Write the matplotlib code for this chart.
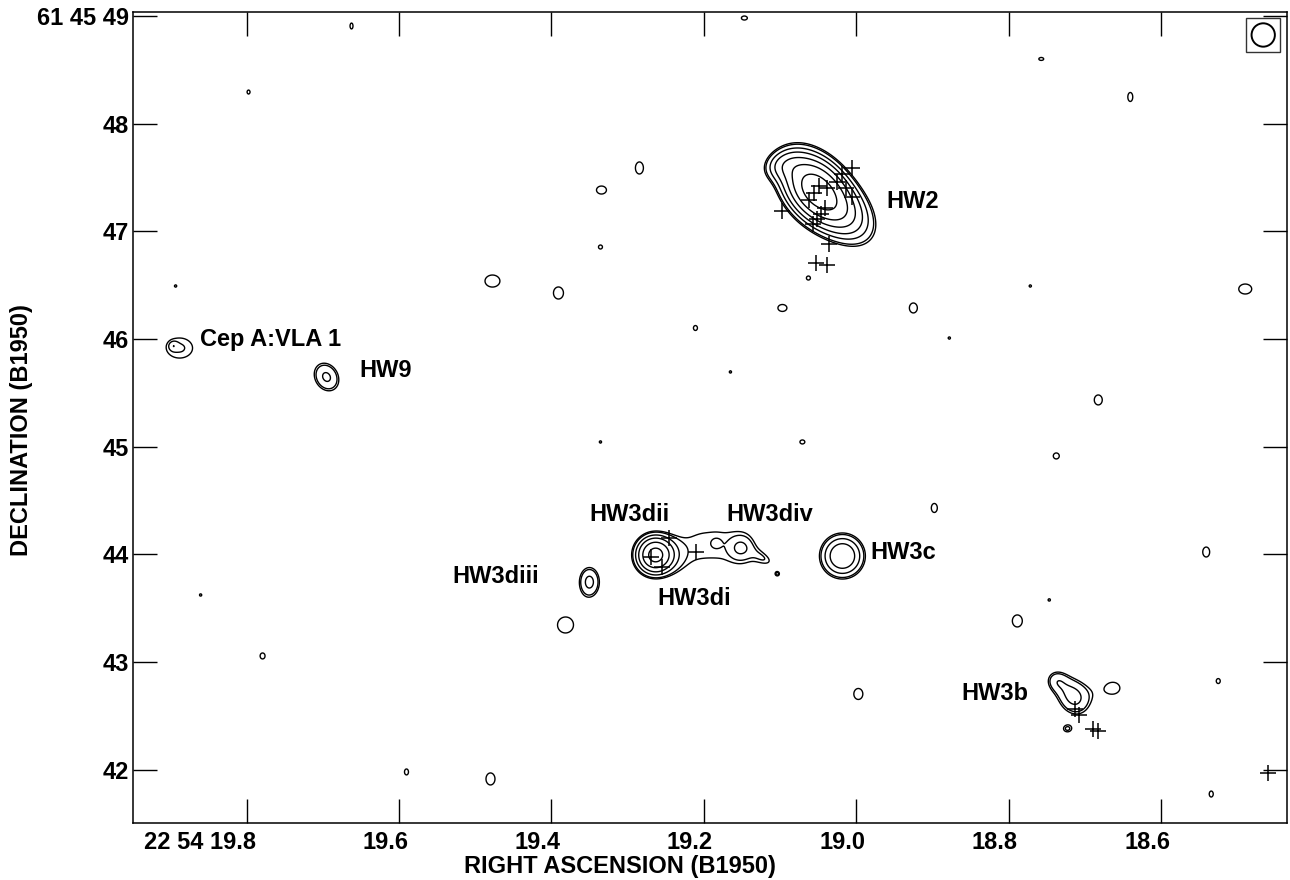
import numpy as np
import matplotlib
matplotlib.use("Agg")
import matplotlib.pyplot as plt
from matplotlib.patches import Rectangle, Ellipse
from matplotlib.transforms import ScaledTranslation

plt.rcParams["font.family"] = ["Liberation Sans", "DejaVu Sans"]
plt.rcParams["font.weight"] = "bold"

# Field centre declination (deg) for converting RA seconds to arcsec
DEC_REF = 61.7625
ARCSEC_PER_SEC = 15.0 * np.cos(np.radians(DEC_REF))

# Contour levels in units of the map rms
levels = [3, 3.5, 5, 7, 10, 14, 20, 28]

# Continuum components: RA (s after 22h54m), Dec (arcsec after 61d45m),
# peak (rms units), sigma major / minor (arcsec), position angle (deg E of N)
src_ra = [19.0551, 19.0197, 19.0984,                    # HW2
          19.8879, 19.8960,                             # Cep A:VLA 1
          19.6951,                                      # HW9
          19.2636,                                      # HW3di/dii
          19.2321, 19.2190, 19.2059, 19.1928, 19.1797, 19.1666, 19.1534, 19.1403,
          19.1272,                                      # ridge
          19.1836, 19.1521, 19.1167,                    # HW3div knots and tail
          19.3502,                                      # HW3diii
          19.0183,                                      # HW3c
          18.7154, 18.7390,                             # HW3b
          19.3816]
src_dec = [47.403, 47.190, 47.620,
           45.917, 45.936,
           45.648,
           43.9955,
           44.0418, 44.0604, 44.0883, 44.0883, 44.0883, 44.0790, 44.0604, 44.0418,
           44.0047,
           44.1068, 44.0604, 43.9490,
           43.7445,
           43.986,
           42.680, 42.835,
           43.3454]
src_peak = [22.0, 9.0, 4.0,
            3.6, 1.6,
            5.3,
            16.0,
            1.1, 1.3, 1.3, 1.3, 1.3, 1.3, 1.3, 1.3,
            1.3,
            0.6, 2.5, 2.0,
            5.5,
            9.8,
            5.6, 3.0,
            3.45]
src_smaj = [0.230, 0.250, 0.130,
            0.200, 0.025,
            0.126,
            0.121,
            0.280, 0.290, 0.290, 0.290, 0.290, 0.290, 0.290, 0.260,
            0.210,
            0.040, 0.065, 0.100,
            0.122,
            0.139,
            0.150, 0.080,
            0.140]
src_smin = [0.160, 0.160, 0.090,
            0.154, 0.025,
            0.100,
            0.121,
            0.093, 0.093, 0.093, 0.093, 0.093, 0.093, 0.093, 0.093,
            0.093,
            0.040, 0.065, 0.050,
            0.084,
            0.139,
            0.120, 0.080,
            0.140]
src_pa = [40, 45, 110,
          90, 0,
          30,
          0,
          0, 0, 0, 0, 0, 0, 0, 0,
          10,
          0, 0, 60,
          0,
          0,
          30, 0,
          0]

# Faint peaks just above the lowest contour: RA, Dec, sigma RA, sigma Dec (arcsec)
faint_peak = 3.3
faint_ra = [19.6623, 19.7974, 19.2846, 19.3344, 19.3357, 19.4774, 19.3908, 19.8931,
            19.2111, 19.1469, 18.7574, 18.6406, 18.7718, 18.4898, 19.0970, 18.9252,
            19.0629, 18.8780, 19.1652, 18.6826, 19.0708, 18.7377, 18.8977, 18.5410,
            19.1036, 18.7469, 18.7888, 19.7790, 18.9974, 18.6629, 18.5252, 19.5902,
            19.4800, 18.5344, 18.7233, 19.8603, 19.3357]
faint_dec = [48.907, 48.294, 47.589, 47.384, 46.855, 46.539, 46.428, 46.493,
             46.103, 48.981, 48.601, 48.248, 46.493, 46.465, 46.289, 46.289,
             46.567, 46.010, 45.695, 45.435, 45.045, 44.915, 44.432, 44.023,
             43.819, 43.578, 43.383, 43.058, 42.705, 42.760, 42.825, 41.981,
             41.916, 41.776, 42.380, 43.624, 45.045]
faint_sra = [0.032, 0.032, 0.085, 0.106, 0.043, 0.159, 0.106, 0.025,
             0.043, 0.064, 0.053, 0.053, 0.025, 0.138, 0.096, 0.085,
             0.043, 0.025, 0.025, 0.085, 0.053, 0.064, 0.064, 0.074,
             0.025, 0.025, 0.106, 0.053, 0.096, 0.138, 0.043, 0.043,
             0.096, 0.043, 0.053, 0.025, 0.025]
faint_sdec = [0.064, 0.043, 0.128, 0.085, 0.043, 0.128, 0.128, 0.025,
              0.053, 0.043, 0.032, 0.096, 0.025, 0.106, 0.074, 0.106,
              0.043, 0.025, 0.025, 0.106, 0.043, 0.064, 0.096, 0.106,
              0.025, 0.025, 0.128, 0.064, 0.117, 0.117, 0.053, 0.064,
              0.128, 0.064, 0.043, 0.025, 0.025]

# Maser spots (crosses)
maser_ra = [19.0052, 19.0183, 19.0249, 19.0131, 19.0052, 19.0485, 19.0380, 19.0551,
            19.0616, 19.0970, 19.0406, 19.0459, 19.0511, 19.0564, 19.0354, 19.0524,
            19.0380,
            19.2688, 19.2544, 19.2452, 19.2098,
            18.7128, 18.7075, 18.6892, 18.6826,
            18.4596]
maser_dec = [47.589, 47.533, 47.459, 47.403, 47.319, 47.422, 47.403, 47.357,
             47.292, 47.189, 47.217, 47.162, 47.115, 47.069, 46.883, 46.707,
             46.688,
             43.977, 43.884, 44.153, 44.023,
             42.566, 42.510, 42.380, 42.361,
             41.971]

# Source names and label anchor (left edge, vertical centre)
label_text = ["Cep A:VLA 1", "HW9", "HW2", "HW3dii", "HW3div", "HW3diii", "HW3di", "HW3c", "HW3b"]
label_ra = [19.8616, 19.6518, 18.9606, 19.3502, 19.1705, 19.5298, 19.2610, 18.9816, 18.8623]
label_dec = [45.992, 45.713, 47.273, 44.367, 44.367, 43.800, 43.587, 44.023, 42.705]

# Restoring beam (FWHM, arcsec) and where it is drawn
beam_fwhm = 0.217
beam_ra, beam_dec = 18.4662, 48.8236
beam_box = 0.316

ra_lim = (19.949, 18.435)
dec_lim = (41.507, 49.037)
ra_ticks = [19.8, 19.6, 19.4, 19.2, 19.0, 18.8, 18.6]
ra_ticklabels = ["22 54 19.8", "19.6", "19.4", "19.2", "19.0", "18.8", "18.6"]
dec_ticks = [49, 48, 47, 46, 45, 44, 43, 42]
dec_ticklabels = ["61 45 49", "48", "47", "46", "45", "44", "43", "42"]

# Model brightness on a fine grid
ra_grid = np.linspace(ra_lim[1], ra_lim[0], 1500)
dec_grid = np.linspace(dec_lim[0], dec_lim[1], 1000)
RA, DEC = np.meshgrid(ra_grid, dec_grid)


def gaussian(ra0, dec0, amp, smaj, smin, pa):
    dx = (RA - ra0) * ARCSEC_PER_SEC
    dy = DEC - dec0
    t = np.radians(pa)
    u = dx * np.sin(t) + dy * np.cos(t)
    v = dx * np.cos(t) - dy * np.sin(t)
    return amp * np.exp(-0.5 * ((u / smaj) ** 2 + (v / smin) ** 2))


field = np.zeros_like(RA)
for r, d, a, sj, sn, p in zip(src_ra, src_dec, src_peak, src_smaj, src_smin, src_pa):
    field += gaussian(r, d, a, sj, sn, p)
for r, d, sx, sy in zip(faint_ra, faint_dec, faint_sra, faint_sdec):
    field += gaussian(r, d, faint_peak, sy, sx, 0)

fig = plt.figure(figsize=(12.9, 8.8), dpi=100)
ax = fig.add_axes([133 / 1290, 1 - 823 / 880, (1287 - 133) / 1290, (823 - 12) / 880])

ax.contour(RA, DEC, field, levels=levels, colors="black", linewidths=1.0)
ax.plot(maser_ra, maser_dec, "+", color="black", ms=12, mew=1.1, ls="none")

for t, r, d in zip(label_text, label_ra, label_dec):
    ax.text(r, d, t, ha="left", va="center", fontsize=17, fontweight="bold")

bw = beam_box / ARCSEC_PER_SEC
ax.add_patch(Rectangle((beam_ra - bw / 2, beam_dec - beam_box / 2), bw, beam_box,
                       fill=False, ec="#333333", lw=1.0))
ax.add_patch(Ellipse((beam_ra, beam_dec), beam_fwhm / ARCSEC_PER_SEC, beam_fwhm,
                     fill=False, ec="black", lw=1.4))

ax.set_xlim(*ra_lim)
ax.set_ylim(*dec_lim)
ax.set_xticks(ra_ticks)
ax.set_xticklabels(ra_ticklabels)
ax.set_yticks(dec_ticks)
ax.set_yticklabels(dec_ticklabels)
ax.tick_params(direction="in", length=17, width=1.0, top=True, right=True,
               labelsize=17)
ax.tick_params(axis="x", pad=6)
ax.tick_params(axis="y", pad=3)
shift = ScaledTranslation(9 / 100, 0, fig.dpi_scale_trans)
for lab in ax.get_xticklabels():
    lab.set_fontweight("bold")
    lab.set_horizontalalignment("right")
    lab.set_transform(lab.get_transform() + shift)
for lab in ax.get_yticklabels():
    lab.set_fontweight("bold")
for s in ax.spines.values():
    s.set_linewidth(1.1)

fig.text(22 / 1290, 1 - 430 / 880, "DECLINATION (B1950)", rotation=90,
         ha="center", va="center", fontsize=17, fontweight="bold")
fig.text(620 / 1290, 1 - 866 / 880, "RIGHT ASCENSION (B1950)",
         ha="center", va="center", fontsize=17, fontweight="bold")

fig.savefig("out.png", dpi=100)
